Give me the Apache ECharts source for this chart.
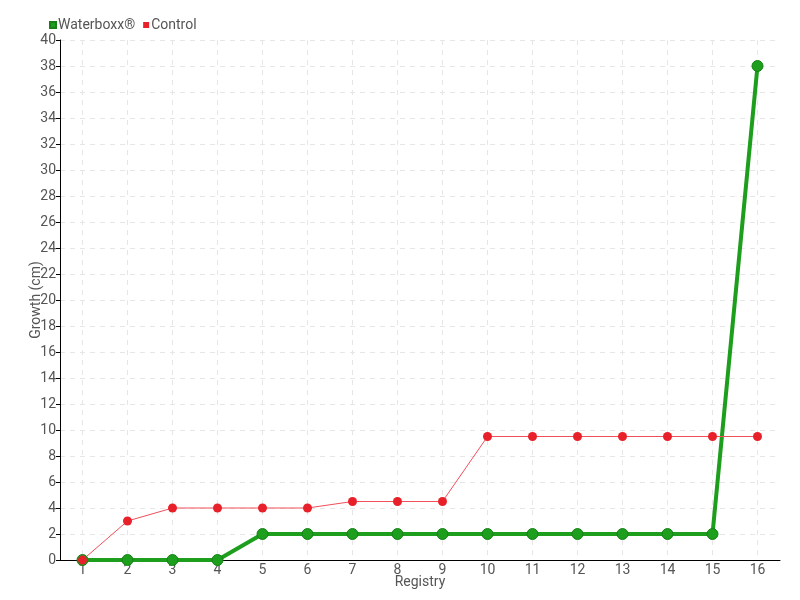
<!DOCTYPE html>
<html>
<head>
<meta charset="utf-8">
<script src="https://cdn.jsdelivr.net/npm/echarts@6/dist/echarts.min.js"></script>
<style>
  html, body { margin: 0; padding: 0; background: #fff; }
  #chart { width: 800px; height: 600px; }
</style>
</head>
<body>
<div id="chart"></div>
<script>
// registro / categorias
const registry = ['1', '2', '3', '4', '5', '6', '7', '8', '9', '10', '11', '12', '13', '14', '15', '16'];
const waterboxx = [0, 0, 0, 0, 2, 2, 2, 2, 2, 2, 2, 2, 2, 2, 2, 38];
const control = [0, 3, 4, 4, 4, 4, 4.5, 4.5, 4.5, 9.5, 9.5, 9.5, 9.5, 9.5, 9.5, 9.5];

const font = 'Roboto, sans-serif';
const txt = '#555';

const myChart = echarts.init(document.getElementById('chart'));
myChart.setOption({
  animation: false,
  textStyle: { fontFamily: font },
  legend: {
    left: 44,
    top: 13,
    itemWidth: 6,
    itemHeight: 6,
    itemGap: 8,
    icon: 'rect',
    textStyle: { color: txt, fontSize: 14, fontFamily: font, padding: [0, 0, 0, -3] },
    data: ['Waterboxx®', 'Control']
  },
  grid: { left: 60, right: 20, top: 40, bottom: 40, outerBoundsMode: 'none' },
  xAxis: {
    type: 'category',
    data: registry,
    name: 'Registry',
    nameLocation: 'middle',
    nameGap: 15,
    nameMoveOverlap: false,
    nameTextStyle: { color: txt, fontSize: 14, fontFamily: font },
    axisLine: { lineStyle: { color: '#000' } },
    axisTick: { alignWithLabel: true, lineStyle: { color: '#000' } },
    axisLabel: { color: txt, fontSize: 14, margin: 3, fontFamily: font },
    splitLine: { show: true, alignWithLabel: true, lineStyle: { color: '#e6e6e6', type: [5, 5] } }
  },
  yAxis: {
    type: 'value',
    min: 0,
    max: 40,
    interval: 2,
    name: 'Growth (cm)',
    nameLocation: 'middle',
    nameGap: 17,
    nameMoveOverlap: false,
    nameTextStyle: { color: txt, fontSize: 14, fontFamily: font },
    axisLine: { show: true, lineStyle: { color: '#000' } },
    axisTick: { show: true, length: 4, lineStyle: { color: '#000' } },
    axisLabel: { color: txt, fontSize: 14, margin: 4, fontFamily: font },
    splitLine: { lineStyle: { color: '#e6e6e6', type: [5, 5] } }
  },
  series: [{
    name: 'Waterboxx®',
    type: 'line',
    data: waterboxx,
    color: '#1d9e1d',
    symbol: 'circle',
    symbolSize: 11,
    lineStyle: { width: 4, color: '#1d9e1d' },
    itemStyle: { color: '#1d9e1d', borderColor: '#178017', borderWidth: 1 }
  }, {
    name: 'Control',
    type: 'line',
    data: control,
    color: '#e8202a',
    symbol: 'circle',
    symbolSize: 9,
    lineStyle: { width: 1, color: '#f0505a' },
    itemStyle: { color: '#e8202a', borderWidth: 0 }
  }]
});
</script>
</body>
</html>
